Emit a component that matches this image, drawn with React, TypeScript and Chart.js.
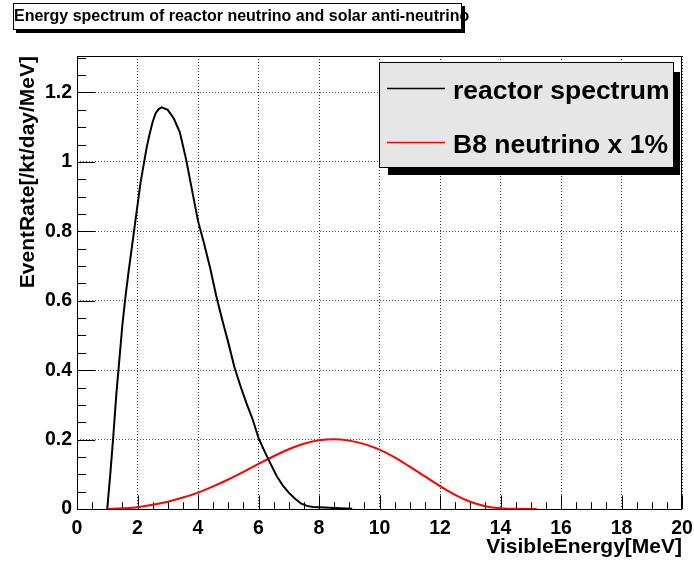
import React, { useEffect, useRef } from "react";
import { Chart, registerables } from "chart.js";

Chart.register(...registerables);

// ---- text ----
const TITLE = "Energy spectrum of reactor neutrino and solar anti-neutrino";
const X_TITLE = "VisibleEnergy[MeV]";
const Y_TITLE = "EventRate[/kt/day/MeV]";
const SERIES_LABELS = ["reactor spectrum", "B8 neutrino x 1%"];
const SERIES_COLORS = ["#000000", "#ff0000"];

// ---- reactor anti-neutrino spectrum (MeV, events/kt/day/MeV) ----
const reactorEnergy = [
  1.0, 1.1, 1.2, 1.3, 1.4, 1.5, 1.6, 1.7, 1.8, 1.9, 2.0, 2.1, 2.2, 2.3, 2.4,
  2.5, 2.6, 2.7, 2.8, 3.0, 3.2, 3.4, 3.6, 3.8, 4.0, 4.2, 4.4, 4.6, 4.8, 5.0,
  5.2, 5.4, 5.6, 5.8, 6.0, 6.2, 6.4, 6.6, 6.8, 7.0, 7.2, 7.4, 7.6, 7.8, 8.0,
  8.5, 9.1,
];
const reactorRate = [
  0.0, 0.1, 0.21, 0.33, 0.43, 0.53, 0.61, 0.68, 0.745, 0.81, 0.875, 0.94,
  0.99, 1.04, 1.08, 1.115, 1.14, 1.152, 1.157, 1.15, 1.125, 1.085, 1.01, 0.92,
  0.83, 0.765, 0.695, 0.615, 0.545, 0.48, 0.41, 0.355, 0.305, 0.26, 0.205,
  0.166, 0.13, 0.095, 0.068, 0.047, 0.03, 0.016, 0.009, 0.006, 0.005, 0.003,
  0.001,
];

// ---- B8 solar neutrino spectrum scaled by 1% ----
const b8Energy = [
  1.0, 1.5, 2.0, 2.5, 3.0, 3.5, 4.0, 4.5, 5.0, 5.5, 6.0, 6.5, 7.0, 7.5, 8.0,
  8.5, 9.0, 9.5, 10.0, 10.5, 11.0, 11.5, 12.0, 12.5, 13.0, 13.5, 14.0, 14.5,
  15.0, 15.2,
];
const b8Rate = [
  0.0, 0.002, 0.005, 0.012, 0.021, 0.033, 0.047, 0.065, 0.085, 0.107, 0.13,
  0.152, 0.172, 0.188, 0.198, 0.201, 0.197, 0.187, 0.171, 0.149, 0.122, 0.094,
  0.066, 0.041, 0.021, 0.008, 0.002, 0.0005, 0.0, 0.0,
];

// ---- axis ranges and divisions ----
const X_MIN = 0;
const X_MAX = 20;
const X_MAJOR = 2;
const X_MINOR_PER_MAJOR = 4;
const Y_MIN = 0;
const Y_MAX = 1.305;
const Y_MAJOR = 0.2;
const Y_MINOR_PER_MAJOR = 4;

const FONT = '"Liberation Sans", Arial, Helvetica, sans-serif';

// Frame around the plot area plus inward-pointing major/minor ticks.
const frameTicks = {
  id: "frameTicks",
  beforeDatasetsDraw(chart: any) {
    const { ctx, chartArea: a, scales } = chart;
    const xs = scales.x;
    const ys = scales.y;
    const w = a.right - a.left;
    const h = a.bottom - a.top;
    ctx.save();
    ctx.strokeStyle = "#000";
    ctx.lineWidth = 1;
    ctx.beginPath();
    const xStep = X_MAJOR / X_MINOR_PER_MAJOR;
    const nx = Math.round((X_MAX - X_MIN) / xStep);
    for (let i = 0; i <= nx; i++) {
      const v = X_MIN + i * xStep;
      const major = i % X_MINOR_PER_MAJOR === 0;
      const len = (major ? 0.03 : 0.015) * h;
      const px = Math.round(xs.getPixelForValue(v)) + 0.5;
      ctx.moveTo(px, a.bottom);
      ctx.lineTo(px, a.bottom - len);
    }
    const yStep = Y_MAJOR / Y_MINOR_PER_MAJOR;
    const ny = Math.floor((Y_MAX - Y_MIN) / yStep + 1e-6);
    for (let i = 0; i <= ny; i++) {
      const v = Y_MIN + i * yStep;
      const major = i % Y_MINOR_PER_MAJOR === 0;
      const len = (major ? 0.03 : 0.015) * w;
      const py = Math.round(ys.getPixelForValue(v)) + 0.5;
      ctx.moveTo(a.left, py);
      ctx.lineTo(a.left + len, py);
    }
    ctx.stroke();
    ctx.strokeRect(
      Math.round(a.left) + 0.5,
      Math.round(a.top) + 0.5,
      Math.round(w) - 1,
      Math.round(h)
    );
    ctx.restore();
  },
};

// Title box with drop shadow in the top-left corner.
const titleBox = {
  id: "titleBox",
  afterDraw(chart: any) {
    const { ctx } = chart;
    ctx.save();
    const bx = 13, by = 3, bw = 449, bh = 27, sh = 3;
    ctx.fillStyle = "#000";
    ctx.fillRect(bx + sh, by + sh, bw, bh);
    ctx.fillStyle = "#fff";
    ctx.fillRect(bx, by, bw, bh);
    ctx.strokeStyle = "#000";
    ctx.lineWidth = 1;
    ctx.strokeRect(bx + 0.5, by + 0.5, bw - 1, bh - 1);
    ctx.fillStyle = "#000";
    ctx.font = `bold 16px ${FONT}`;
    ctx.textBaseline = "alphabetic";
    ctx.textAlign = "left";
    ctx.fillText(TITLE, 14, 21);
    ctx.restore();
  },
};

// Grey legend box with shadow, built from the datasets.
const legendBox = {
  id: "legendBox",
  afterDraw(chart: any) {
    const { ctx } = chart;
    const bx = 379, by = 62, bw = 295, bh = 106;
    ctx.save();
    ctx.fillStyle = "#000";
    ctx.fillRect(bx + 9, by + 10, bw - 3, bh - 3);
    ctx.fillStyle = "#e6e6e6";
    ctx.fillRect(bx, by, bw, bh);
    ctx.strokeStyle = "#000";
    ctx.lineWidth = 1;
    ctx.strokeRect(bx + 0.5, by + 0.5, bw - 1, bh - 1);
    ctx.font = `bold 26.5px ${FONT}`;
    ctx.textAlign = "left";
    ctx.textBaseline = "alphabetic";
    chart.data.datasets.forEach((ds: any, i: number) => {
      const cy = by + 26.5 + i * 54;
      ctx.strokeStyle = ds.borderColor;
      ctx.lineWidth = 1.5;
      ctx.beginPath();
      ctx.moveTo(bx + 8, cy);
      ctx.lineTo(bx + 66, cy);
      ctx.stroke();
      ctx.fillStyle = "#000";
      ctx.fillText(ds.label, bx + 74, cy + 10);
    });
    ctx.restore();
  },
};

export default function App() {
  const canvasRef = useRef<HTMLCanvasElement | null>(null);

  useEffect(() => {
    const canvas = canvasRef.current;
    if (!canvas) return;
    const toPoints = (xs: number[], ys: number[]) =>
      xs.map((x, i) => ({ x, y: ys[i] }));

    const chart = new Chart(canvas, {
      type: "line",
      data: {
        datasets: [
          {
            label: SERIES_LABELS[0],
            data: toPoints(reactorEnergy, reactorRate),
            borderColor: SERIES_COLORS[0],
            borderWidth: 2,
            pointRadius: 0,
            tension: 0,
            fill: false,
          },
          {
            label: SERIES_LABELS[1],
            data: toPoints(b8Energy, b8Rate),
            borderColor: SERIES_COLORS[1],
            borderWidth: 2,
            pointRadius: 0,
            cubicInterpolationMode: "monotone",
            fill: false,
          },
        ],
      },
      options: {
        responsive: false,
        animation: false,
        layout: { padding: { top: 56, right: 12, left: 0, bottom: 0 } },
        plugins: {
          legend: { display: false },
          title: { display: false },
          tooltip: { enabled: false },
        },
        scales: {
          x: {
            type: "linear",
            min: X_MIN,
            max: X_MAX,
            afterFit: (s: any) => {
              s.height = 53;
              s.paddingLeft = 0;
              s.paddingRight = 0;
            },
            ticks: {
              stepSize: X_MAJOR,
              includeBounds: false,
              maxRotation: 0,
              autoSkip: false,
              padding: 8,
              color: "#000",
              font: { family: FONT, size: 19.5, weight: "bold" },
              callback: (v: any) => String(v),
            },
            grid: { drawTicks: false, color: "rgba(0,0,0,0.8)", lineWidth: 1 },
            border: { display: false, dash: [1, 2] },
            title: {
              display: true,
              text: X_TITLE,
              align: "end",
              color: "#000",
              padding: { top: 0, bottom: 2 },
              font: { family: FONT, size: 21, weight: "bold" },
            },
          },
          y: {
            type: "linear",
            min: Y_MIN,
            max: Y_MAX,
            afterFit: (s: any) => {
              s.width = 77;
              s.paddingTop = 0;
              s.paddingBottom = 0;
            },
            ticks: {
              stepSize: Y_MAJOR,
              includeBounds: false,
              autoSkip: false,
              padding: 5,
              color: "#000",
              font: { family: FONT, size: 19.5, weight: "bold" },
              callback: (v: any) => String(Math.round(Number(v) * 10) / 10),
            },
            grid: { drawTicks: false, color: "rgba(0,0,0,0.7)", lineWidth: 1 },
            border: { display: false, dash: [1, 2] },
            title: {
              display: true,
              text: Y_TITLE,
              align: "end",
              color: "#000",
              padding: { top: 16, bottom: 0 },
              font: { family: FONT, size: 21, weight: "bold" },
            },
          },
        },
      } as any,
      plugins: [frameTicks, titleBox, legendBox],
    });
    return () => chart.destroy();
  }, []);

  return (
    <div
      style={{
        position: "absolute",
        left: 0,
        top: 0,
        width: 694,
        height: 562,
        background: "#fff",
      }}
    >
      <canvas
        ref={canvasRef}
        width={694}
        height={562}
        style={{ display: "block", width: 694, height: 562 }}
      />
    </div>
  );
}
